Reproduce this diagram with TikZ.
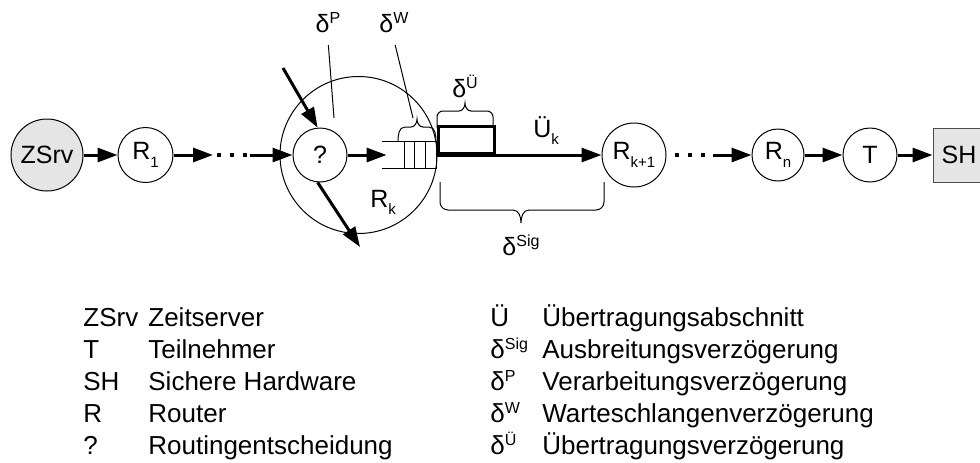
\documentclass[tikz,border=0pt]{standalone}
\usepackage{fontspec}
\setmainfont{Liberation Sans}
\usetikzlibrary{arrows.meta,positioning}
\newcommand{\lidx}[1]{\raisebox{-3.75pt}{\fontsize{7.5pt}{8pt}\selectfont #1}}
\newcommand{\uidx}[1]{\raisebox{4.5pt}{\fontsize{8pt}{9pt}\selectfont #1}}

\begin{document}
\begin{tikzpicture}[x=0.5pt,y=0.5pt,
every node/.style={font=\fontsize{12.5pt}{15pt}\selectfont},
station/.style={draw,circle,line width=.5pt,inner sep=0pt,minimum size=27.5pt},
arr/.style={-{Triangle[length=10pt,width=7pt]},line width=1.5pt},
dots/.style={line width=2pt,dash pattern=on 2pt off 4.5pt},
thinline/.style={line width=.5pt},
bracket/.style={line width=.5pt},
legend/.style={anchor=base west,inner sep=0pt,font=\fontsize{13pt}{15pt}\selectfont}]
\useasboundingbox (0,-307) rectangle (980,155);
% router k with its parts
\node[station,minimum size=78.5pt](rk) at (358.5,0){};
\node[station,minimum size=27pt](q) at (320,0){?};
\node[inner sep=0pt,minimum width=27.5pt,minimum height=13pt](queue) at (409.5,0){};
\node[draw,line width=1.5pt,minimum width=28pt,minimum height=13.5pt,inner sep=0pt,anchor=south west](tx) at (437,0){};
\node[anchor=base west,inner sep=0pt](rklabel) at (370,-52){R\lidx{k}};
% chain
\node[station,fill=black!10,minimum size=36pt](zsrv) at (47,0){ZSrv};
\node[station](r1) at (145.5,0){R\lidx{1}};
\node[station,minimum size=32pt](rk1) at (634,0){R\lidx{k+1}};
\node[station,minimum size=26pt](rn) at (778,0){R\lidx{n}};
\node[station,minimum size=27pt](t) at (870,0){T};
\node[draw=black!70,fill=black!10,line width=.5pt,minimum width=26pt,minimum height=27pt,inner sep=0pt](sh) at (959,0){SH};
\coordinate (d1a) at (213,0);\coordinate (d1b) at (250,0);
\coordinate (d2a) at (675,0);\coordinate (d2b) at (713,0);
\coordinate (inA) at (283,87);\coordinate (outA) at (360,-92);
\draw[arr](zsrv)--(r1);\draw[arr](r1)--(d1a);
\draw[dots](217,0)--(247,0);\draw[arr](d1b)--(q);
\draw[arr](inA)--(q.95);\draw[arr](q.265)--(outA);
\draw[arr](q)--([xshift=2.5pt]queue.west);
\draw[thinline](queue.north west)--(queue.north east)(queue.south west)--(queue.south east);
\foreach \x in {404,414,425,436} \draw[thinline](\x,13)--(\x,-13);
\draw[arr](tx.south west)--(rk1);
\draw[dots](d2a)--(707,0);\draw[arr](d2b)--(rn);
\draw[arr](rn)--(t);\draw[arr](t)--(sh);
% delays
\node(dP) at (328,132){δ\uidx{P}};
\node(dW) at (394,132){δ\uidx{W}};
\node(dU) at (465,69){δ\uidx{Ü}};
\node(dSig) at (521,-90){δ\uidx{Sig}};
\node[anchor=base west,inner sep=0pt](uk) at (533,18){Ü\lidx{k}};
\coordinate (pEnd) at (334,37);\coordinate (wEnd) at (413,37);
\draw[thinline,shorten <=2.5pt](dP.south)--(pEnd);
\draw[thinline,shorten <=2.5pt](dW.south)--(wEnd);
\draw[bracket](398,13) to[out=90,in=180] (405,28) -- (411,28) to[out=0,in=-90] (417,36) to[out=-90,in=180] (423,28) -- (429,28) to[out=0,in=90] (436,13);
\draw[bracket](437,27) -- (437,38) to[out=90,in=180] (443,44) -- (459,44) to[out=0,in=-90] (465,52) to[out=-90,in=180] (471,44) -- (487,44) to[out=0,in=90] (493,38) -- (493,27);
\draw[bracket](440,-27) -- (440,-47) to[out=-90,in=180] (448,-55) -- (513,-55) to[out=0,in=90] (521,-68) to[out=90,in=180] (529,-55) -- (596,-55) to[out=0,in=-90] (604,-47) -- (604,-27);
% legend
\foreach \k/\d [count=\i] in {ZSrv/Zeitserver,T/Teilnehmer,SH/Sichere Hardware,R/Router,?/Routingentscheidung}{
\node[legend](keyL\i) at (83,{-139-32*\i}){\k};
\node[legend](descL\i) at (148,{-139-32*\i}){\d};}
\foreach \k/\d [count=\i] in {Ü/Übertragungsabschnitt,δ\uidx{Sig}/Ausbreitungsverzögerung,δ\uidx{P}/Verarbeitungsverzögerung,δ\uidx{W}/Warteschlangenverzögerung,δ\uidx{Ü}/Übertragungsverzögerung}{
\node[legend](keyR\i) at (490,{-139-32*\i}){\k};
\node[legend](descR\i) at (542,{-139-32*\i}){\d};}
\end{tikzpicture}
\end{document}
